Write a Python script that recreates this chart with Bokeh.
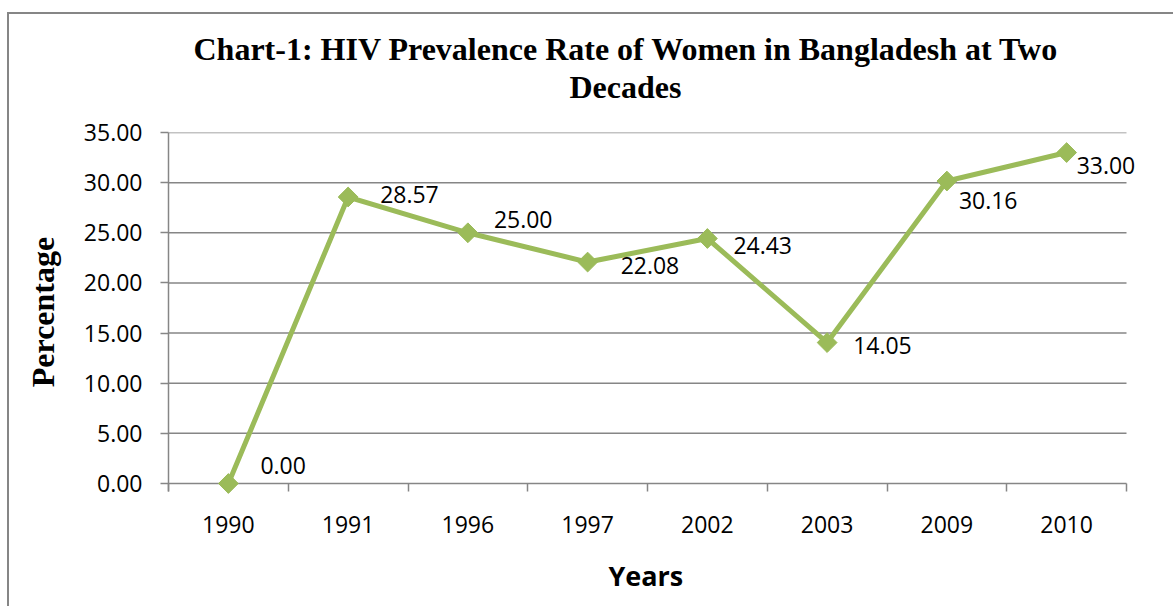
from bokeh.plotting import figure
from bokeh.models import (ColumnDataSource, FixedTicker, LabelSet, Title,
                          Range1d, NumeralTickFormatter)
from bokeh.core.properties import value
from bokeh.embed import file_html
from bokeh.resources import INLINE

# ---- data ----
years = ["1990", "1991", "1996", "1997", "2002", "2003", "2009", "2010"]
rates = [0.00, 28.57, 25.00, 22.08, 24.43, 14.05, 30.16, 33.00]
rate_labels = ["0.00", "28.57", "25.00", "22.08", "24.43", "14.05", "30.16", "33.00"]
y_ticks = [0, 5, 10, 15, 20, 25, 30, 35]

# label placement offsets in pixels (style)
label_dx = [32, 32, 26, 33, 26, 26, 12, 10]
label_dy = [18, 2, 13, -3.5, -7, -3, -19, -13]

GREEN = "#9BBB59"
GRAY = "#868686"
TICK_FONT = "Open Sans"

n = len(years)
idx = list(range(n))
src = ColumnDataSource(dict(x=idx, y=rates, lab=rate_labels, dx=label_dx, dy=label_dy))

# layout geometry (pixels): plot area 168..1126, top 132 (35), zero at 483, bottom 491
px_per_unit = (483 - 132) / 35.0
y_start = -8 / px_per_unit
px_per_cat = (1126 - 168) / n
frame_right = 1165
x_end = -0.5 + (frame_right - 168) / px_per_cat

p = figure(width=1173, height=606, output_backend="svg", toolbar_location=None,
           x_range=Range1d(-0.5, x_end), y_range=Range1d(y_start, 35),
           min_border_left=168, min_border_right=1173 - frame_right, min_border_top=132,
           min_border_bottom=606 - 491)
p.outline_line_color = None
p.background_fill_color = None
p.border_fill_color = None
p.styles = {
    "background": ("linear-gradient(#868686,#868686) 7px 12px / 2px 100% no-repeat, "
                   "linear-gradient(#868686,#868686) 7px 12px / 100% 2px no-repeat, white"),
}

# title (two lines)
p.title.text = "Chart-1: HIV Prevalence Rate of Women in Bangladesh at Two"
p.title.align = "left"
p.title.offset = 25
p.title.standoff = 0
p.title.text_font = "Liberation Serif"
p.title.text_font_size = "32px"
p.title.text_font_style = "bold"
p.title.text_color = "black"
spacer = Title(text=" ", align="left", standoff=0, text_font="Liberation Serif",
               text_font_size="24px", text_color="white")
t2 = Title(text="Decades", align="left", offset=401, standoff=0,
           text_font="Liberation Serif", text_font_size="32px",
           text_font_style="bold", text_color="black")
p.add_layout(spacer, "above")
p.add_layout(t2, "above")

# x axis
xa = p.xaxis[0]
xa.ticker = FixedTicker(ticks=idx, minor_ticks=[i - 0.5 for i in range(n + 1)])
xa.major_label_overrides = {i: y for i, y in enumerate(years)}
xa.axis_line_color = None
xa.major_tick_in = 0
xa.major_tick_out = 0
xa.minor_tick_in = 8
xa.minor_tick_out = 0
xa.minor_tick_line_color = GRAY
xa.minor_tick_line_width = 1.5
xa.major_label_text_font = TICK_FONT
xa.major_label_text_font_size = "23px"
xa.major_label_text_color = "black"
xa.major_label_standoff = 24

# x axis title (placed under the axis, aligned to the category area)
gap = Title(text=" ", align="left", standoff=0, text_font=TICK_FONT,
            text_font_size="14px", text_color="white")
xt = Title(text="Years", align="left", offset=440, vertical_align="top", standoff=0,
           text_font=TICK_FONT, text_font_size="27px", text_font_style="bold",
           text_color="black")
p.add_layout(gap, "below")
p.add_layout(xt, "below")

# y axis
ya = p.yaxis[0]
ya.ticker = FixedTicker(ticks=y_ticks)
ya.formatter = NumeralTickFormatter(format="0.00")
ya.axis_line_color = GRAY
ya.axis_line_width = 1.5
ya.major_tick_line_color = GRAY
ya.major_tick_line_width = 1.5
ya.major_tick_in = 0
ya.major_tick_out = 8
ya.minor_tick_line_color = None
ya.major_label_text_font = TICK_FONT
ya.major_label_text_font_size = "23px"
ya.major_label_text_color = "black"
ya.major_label_standoff = 18
ya.axis_label = "Percentage"
ya.axis_label_text_font = "Liberation Serif"
ya.axis_label_text_font_size = "32px"
ya.axis_label_text_font_style = "bold"
ya.axis_label_text_color = "black"
ya.axis_label_standoff = 20

# horizontal gridlines spanning the category area only
p.xgrid.grid_line_color = None
p.ygrid.grid_line_color = None
p.segment(x0=[-0.5] * len(y_ticks), x1=[n - 0.5] * len(y_ticks), y0=y_ticks, y1=y_ticks,
          line_color=GRAY, line_width=1.5, level="underlay")

# series
p.line("x", "y", source=src, line_color=GREEN, line_width=5, line_join="miter")
p.scatter("x", "y", source=src, marker="square", angle=0.785398, size=14,
          fill_color=GREEN, line_color=GREEN, level="overlay")

labels = LabelSet(x="x", y="y", text="lab", source=src, x_offset="dx", y_offset="dy",
                  text_font=value(TICK_FONT), text_font_size=value("23px"),
                  text_color="black", text_align="left", text_baseline="middle")
p.add_layout(labels)

open("out.html", "w").write(file_html(p, INLINE))
